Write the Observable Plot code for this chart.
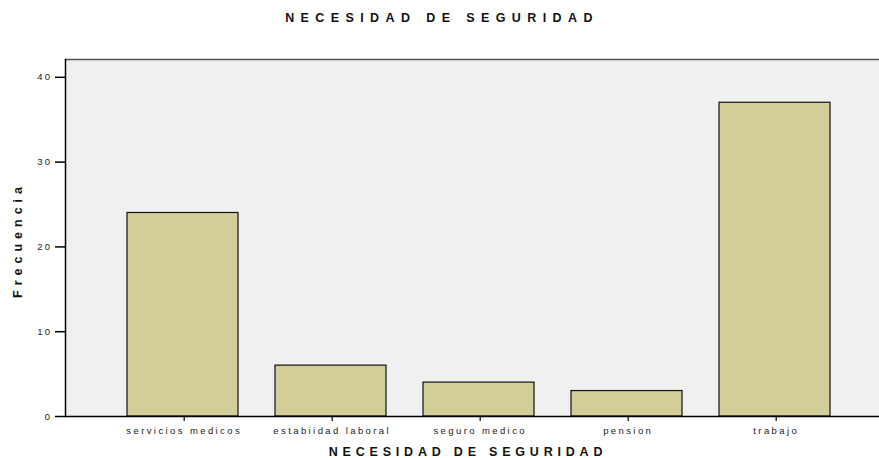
<!DOCTYPE html>
<html>
<head>
<meta charset="utf-8">
<script src="https://cdn.jsdelivr.net/npm/d3@7"></script>
<script src="https://cdn.jsdelivr.net/npm/@observablehq/plot@0.6"></script>
<style>
  body { margin: 0; background: #fff; }
  #chart svg { display: block; }
  #chart [aria-label="x-axis tick label"] text,
  #chart [aria-label="y-axis tick label"] text { letter-spacing: 2.4px; }
</style>
</head>
<body>
<div id="chart"></div>
<script>
const categories = ["servicios medicos", "estabiidad laboral", "seguro medico", "pension", "trabajo"];
const counts = [24, 6, 4, 3, 37];
const yTicks = [0, 10, 20, 30, 40];
const titleText = "NECESIDAD DE SEGURIDAD";
const xLabel = "NECESIDAD DE SEGURIDAD";
const yLabel = "Frecuencia";

const data = categories.map((c, i) => ({category: c, count: counts[i]}));
const W = 879, H = 458;

const chart = Plot.plot({
  width: W,
  height: H,
  marginLeft: 65,
  marginRight: 0,
  marginTop: 59,
  marginBottom: 42,
  style: {fontFamily: "'Liberation Sans', Arial, sans-serif", fontSize: "9.5px", color: "#222", background: "#fff"},
  x: {domain: categories, range: [125, 832], paddingInner: 0.247, paddingOuter: 0, label: null},
  y: {domain: [0, 42.1], label: null},
  marks: [
    Plot.frame({fill: "#f0f0f0", stroke: null}),
    Plot.ruleY([42.1], {stroke: "#555", strokeWidth: 1.5}),
    Plot.frame({anchor: "left", stroke: "#000", strokeWidth: 1.5}),
    Plot.barY(data, {x: "category", y: "count", fill: "#d3ce97", stroke: "#111", strokeWidth: 1.2}),
    Plot.ruleY([0], {stroke: "#000", strokeWidth: 1.5}),
    Plot.axisY({ticks: yTicks, tickSize: 10, tickPadding: 3, tickFormat: d => d, label: null, stroke: "#000", strokeWidth: 1.5}),
    Plot.axisX({tickSize: 5, tickPadding: 6, label: null, stroke: "#000", strokeWidth: 1.2, dx: 1.2})
  ]
});
document.getElementById("chart").appendChild(chart);

const svg = d3.select(chart);
const font = "'Liberation Sans', Arial, sans-serif";
svg.append("text")
  .attr("x", 442).attr("y", 22)
  .attr("text-anchor", "middle")
  .attr("font-family", font).attr("font-weight", "bold").attr("font-size", 12.5)
  .attr("letter-spacing", "6.4px").attr("fill", "#111")
  .text(titleText);
svg.append("text")
  .attr("x", 468).attr("y", 456)
  .attr("text-anchor", "middle")
  .attr("font-family", font).attr("font-weight", "bold").attr("font-size", 12.5)
  .attr("letter-spacing", "4.8px").attr("fill", "#111")
  .text(xLabel);
svg.append("text")
  .attr("transform", "translate(22,240) rotate(-90)")
  .attr("text-anchor", "middle")
  .attr("font-family", font).attr("font-weight", "bold").attr("font-size", 12.5)
  .attr("letter-spacing", "5px").attr("fill", "#111")
  .text(yLabel);
</script>
</body>
</html>
